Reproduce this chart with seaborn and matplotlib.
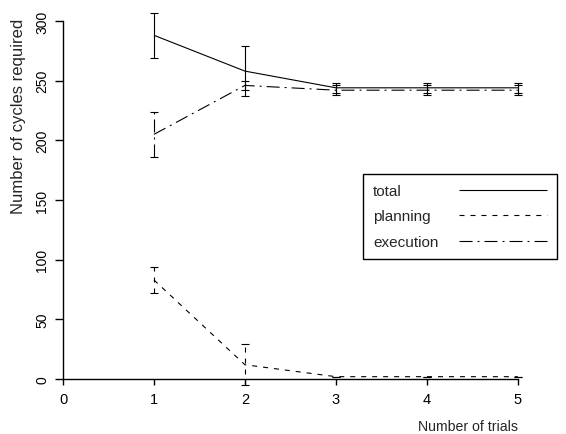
import matplotlib
matplotlib.use("Agg")
import matplotlib.pyplot as plt
import seaborn as sns
import pandas as pd

trials = [1, 2, 3, 4, 5]
total = [288, 258, 244, 244, 244]
total_err = [19, 21, 4, 4, 4]
planning = [83, 12, 2, 2, 2]
planning_err = [11, 17, 0, 0, 0]
execution = [205, 246, 242, 242, 242]
execution_err = [19, 4, 4, 4, 4]

series = [
    ("total", total, total_err, (0, ())),
    ("planning", planning, planning_err, (0, (3.6, 4.3))),
    ("execution", execution, execution_err, (0, (9.4, 3.6, 1.4, 3.6))),
]

sns.set_style("ticks")
plt.rcParams["font.family"] = ["Liberation Sans", "DejaVu Sans"]
plt.rcParams["lines.scale_dashes"] = False

fig = plt.figure(figsize=(5.66, 4.35), dpi=100)
ax = fig.add_axes([63 / 566, 43 / 435, 503 / 566, 392 / 435])

for name, vals, errs, dash in series:
    df = pd.DataFrame({"trial": trials, "cycles": vals})
    sns.lineplot(data=df, x="trial", y="cycles", ax=ax, color="black",
                 linewidth=0.8, linestyle=dash, label=name)
    eb = ax.errorbar(trials, vals, yerr=errs, fmt="none", ecolor="black",
                     elinewidth=0.8, capsize=3.2, capthick=0.8, clip_on=False)
    for c in eb[2]:
        c.set_linestyle(dash)

ax.set_xlim(0, 5.53)
ax.set_ylim(-10, 318.4)
ax.spines["top"].set_visible(False)
ax.spines["right"].set_visible(False)
ax.spines["left"].set_position(("data", 0))
ax.spines["bottom"].set_position(("data", 0))
ax.spines["left"].set_bounds(0, 300)
ax.spines["bottom"].set_bounds(0, 5)
for s in ["left", "bottom"]:
    ax.spines[s].set_linewidth(1.0)
    ax.spines[s].set_color("black")

ax.set_xticks([0, 1, 2, 3, 4, 5])
ax.set_yticks([0, 50, 100, 150, 200, 250, 300])
ax.tick_params(axis="both", direction="out", width=1.0, colors="black")
ax.tick_params(axis="x", length=4.5, pad=5, labelsize=10.5)
ax.tick_params(axis="y", length=6, pad=4, labelsize=10)
for lab in ax.get_yticklabels():
    lab.set_rotation(90)
    lab.set_va("center")

ax.set_xlabel("")
ax.set_ylabel("")
fig.text(19 / 566, 1 - 116 / 435, "Number of cycles required", rotation=90,
         ha="center", va="center", fontsize=12)
fig.text(518 / 566, 1 - 427 / 435, "Number of trials", ha="right",
         va="center", fontsize=10.2)

leg_fs = 11
text_pad = 1.37
leg = ax.legend(loc="upper left", bbox_to_anchor=(363 / 566, 1 - 175 / 435),
                bbox_transform=fig.transFigure, borderaxespad=0,
                markerfirst=False, fontsize=leg_fs, handlelength=5.76,
                handletextpad=text_pad, labelspacing=0.75, borderpad=0.65,
                fancybox=False, edgecolor="black", framealpha=1)
leg.get_frame().set_linewidth(1.0)

# left-align the legend labels (markerfirst=False right-aligns them)
fig.canvas.draw()
renderer = fig.canvas.get_renderer()
widths = [t.get_window_extent(renderer).width for t in leg.get_texts()]
rows = [row for col in leg._legend_handle_box.get_children()
        for row in col.get_children()]
for row, w in zip(rows, widths):
    row.sep = text_pad * leg_fs + (max(widths) - w) * 72 / fig.dpi

fig.savefig("out.png", dpi=100)
